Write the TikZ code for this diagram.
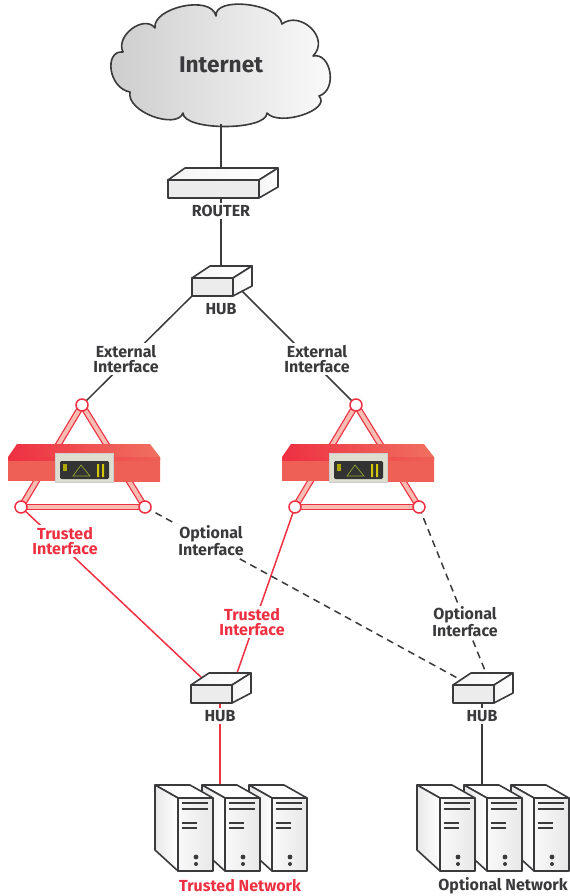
\documentclass[tikz,border=0pt]{standalone}
\usepackage{fontspec}
\setmainfont{Fira Sans}
\definecolor{ink}{HTML}{3A3A3C}
\definecolor{fwred}{HTML}{EE3042}
\definecolor{fwpink}{HTML}{F7BDB2}
\definecolor{fwbody}{HTML}{EE5F55}
\definecolor{fwlight}{HTML}{F4A088}
\definecolor{fwtopr}{HTML}{F07060}
\definecolor{panelA}{HTML}{DDDDD0}
\definecolor{panelB}{HTML}{F0F0E8}
\tikzset{
  outl/.style={draw=ink,line width=1.6*0.75pt,line join=round},
  link/.style={ink,line width=1.5*0.75pt},
  redlink/.style={fwred,line width=1.5*0.75pt},
  dashlink/.style={ink,line width=1.5*0.75pt,dash pattern=on 7*0.75pt off 5*0.75pt},
  lbl/.style={font=\bfseries\fontsize{12pt}{11.3pt}\selectfont,text=ink,align=center,fill=white,inner sep=1.5pt},
  redlbl/.style={lbl,text=fwred},
  hubshape/.pic={
    \path[outl,left color=gray!8,right color=white] (0,0) -- (18,-12) -- (60,-12) -- (41,0) -- cycle;
    \path[outl,left color=gray!8,right color=white] (41,0) -- (60,-12) -- (60,8) -- (41,18) -- cycle;
    \path[outl,left color=gray!15,middle color=white,right color=gray!15] (0,0) rectangle (41,18);
  },
  routershape/.pic={
    \path[outl,left color=gray!8,right color=white] (0,0) -- (17,-12) -- (110,-12) -- (91,0) -- cycle;
    \path[outl,left color=gray!8,right color=white] (91,0) -- (110,-12) -- (110,7) -- (91,18) -- cycle;
    \path[outl,left color=gray!15,middle color=white,right color=gray!15] (0,0) rectangle (91,18);
  },
  servershape/.pic={
    \path[outl,fill=white] (-23,-13) -- (12,-13) -- (35,0) -- (0,0) -- cycle;
    \path[outl,left color=gray!18,right color=white] (-23,-13) -- (0,0) -- (0,73) -- (-23,52) -- cycle;
    \path[outl,left color=gray!5,middle color=white,right color=gray!18] (0,0) rectangle (35,73);
    \draw[link] (4,5) -- (30,5) (4,11) -- (30,11) (4,25) -- (19,25) (4,30) -- (19,30);
    \fill[ink] (18,59) circle (2.4) (18,66) circle (2);
  },
  firewallshape/.pic={
    \coordinate (-n) at (0,0);
    \coordinate (-l) at (-61,102);
    \coordinate (-r) at (63,102);
    \foreach \a/\b in {-n/-l,-n/-r,-l/-r}{
      \draw[fwred,line width=6.5*0.75pt] (\a) -- (\b);
      \draw[fwpink,line width=4*0.75pt] (\a) -- (\b);
    }
    \path[left color=fwred,middle color=fwred,right color=fwtopr] (-74,52) -- (-65,39) -- (68,39) -- (78,52) -- cycle;
    \fill[fwbody] (-74,52) rectangle (-27,76);
    \path[left color=fwbody,middle color=fwlight,right color=fwbody] (31,52) rectangle (78,76);
    \path[left color=fwred,middle color=fwred,right color=fwbody] (-74,52) rectangle (78,55);
    \path[left color=panelA,middle color=panelB,right color=panelA,draw=gray!40,line width=0.5pt] (-27,48) rectangle (31,77);
    \fill[black!80,rounded corners=1pt] (-22,56) rectangle (27,74);
    \draw[olive!70!green!80!white,line width=0.5pt] (-1,60) -- (-9,71) -- (8,71) -- cycle;
    \fill[olive!70!yellow] (-19,59) rectangle (-15,66);
    \fill[yellow!60!olive] (15,59) rectangle (17,72) (20,59) rectangle (22,72);
  },
}
\begin{document}
\begin{tikzpicture}[x=0.75pt,y=-0.75pt]
\useasboundingbox (0,0) rectangle (570,896);
% cloud
\path[outl,left color=gray!40,right color=white!97!gray]
  (216,16) .. controls (214,-4) and (279,3) .. (282,24)
  .. controls (300,10) and (331,38) .. (313,56)
  .. controls (331,52) and (338,90) .. (319,96)
  .. controls (332,110) and (279,127) .. (267,113)
  .. controls (267,131) and (183,131) .. (183,113)
  .. controls (177,130) and (126,112) .. (130,92)
  .. controls (108,88) and (104,50) .. (123,52)
  .. controls (115,36) and (144,14) .. (155,28)
  .. controls (152,8) and (211,-6) .. (216,16) -- cycle;
\coordinate (cloudbot) at (221,124);
\node[font=\bfseries\fontsize{17pt}{18pt}\selectfont,text=ink] (internet) at (221,65) {Internet};
% firewalls
\pic (fwA) at (82,405) {firewallshape};
\pic (fwB) at (356,405) {firewallshape};
% device anchors
\coordinate (routerTop) at (221,168);
\coordinate (routerBot) at (221,198);
\coordinate (hubUtop) at (221,266);
\coordinate (hubUsw) at (192,296);
\coordinate (hubUse) at (242,291);
\coordinate (hubTa) at (203,679);
\coordinate (hubTb) at (237,673);
\coordinate (hubTbot) at (220,703);
\coordinate (hubOa) at (461,680);
\coordinate (hubOb) at (486,673);
\coordinate (hubObot) at (482,703);
\coordinate (srvTtop) at (220,785);
\coordinate (srvOtop) at (482,785);
% connectors
\draw[link] (cloudbot) -- (routerTop);
\draw[link] (routerBot) -- (hubUtop);
\draw[link] (hubUsw) -- (fwA-n);
\draw[link] (hubUse) -- (fwB-n);
\draw[redlink] (fwA-l) -- (hubTa);
\draw[redlink] (fwB-l) -- (hubTb);
\draw[dashlink] (fwA-r) -- (hubOa);
\draw[dashlink] (fwB-r) -- (hubOb);
\draw[redlink] (hubTbot) -- (srvTtop);
\draw[link] (hubObot) -- (srvOtop);
% circles over the connector ends
\foreach \c in {fwA-n,fwA-l,fwA-r,fwB-n,fwB-l,fwB-r}
  \path[draw=fwred,fill=white,line width=1.5*0.75pt] (\c) circle (6);
% devices
\pic (router) at (168,180) {routershape};
\pic (hubU) at (192,278) {hubshape};
\pic (hubT) at (191,685) {hubshape};
\pic (hubO) at (453,685) {hubshape};
\pic (srvT3) at (272,798) {servershape};
\pic (srvT2) at (225,798) {servershape};
\pic (srvT1) at (178,798) {servershape};
\pic (srvO3) at (534,798) {servershape};
\pic (srvO2) at (487,798) {servershape};
\pic (srvO1) at (440,798) {servershape};
% labels
\node[lbl] (lrouter) at (221,211) {ROUTER};
\node[lbl] (lhubU) at (221,309) {HUB};
\node[lbl] (lhubT) at (220,716) {HUB};
\node[lbl] (lhubO) at (482,716) {HUB};
\node[lbl] (lextA) at (126,359) {External\\Interface};
\node[lbl] (lextB) at (317,359) {External\\Interface};
\node[redlbl] (ltrA) at (65,541) {Trusted\\Interface};
\node[lbl] (loptA) at (211,541) {Optional\\Interface};
\node[redlbl] (ltrB) at (252,622) {Trusted\\Interface};
\node[lbl] (loptB) at (465,622) {Optional\\Interface};
\node[redlbl] (lnetT) at (240,886) {Trusted Network};
\node[lbl] (lnetO) at (503,886) {Optional Network};
\end{tikzpicture}
\end{document}
